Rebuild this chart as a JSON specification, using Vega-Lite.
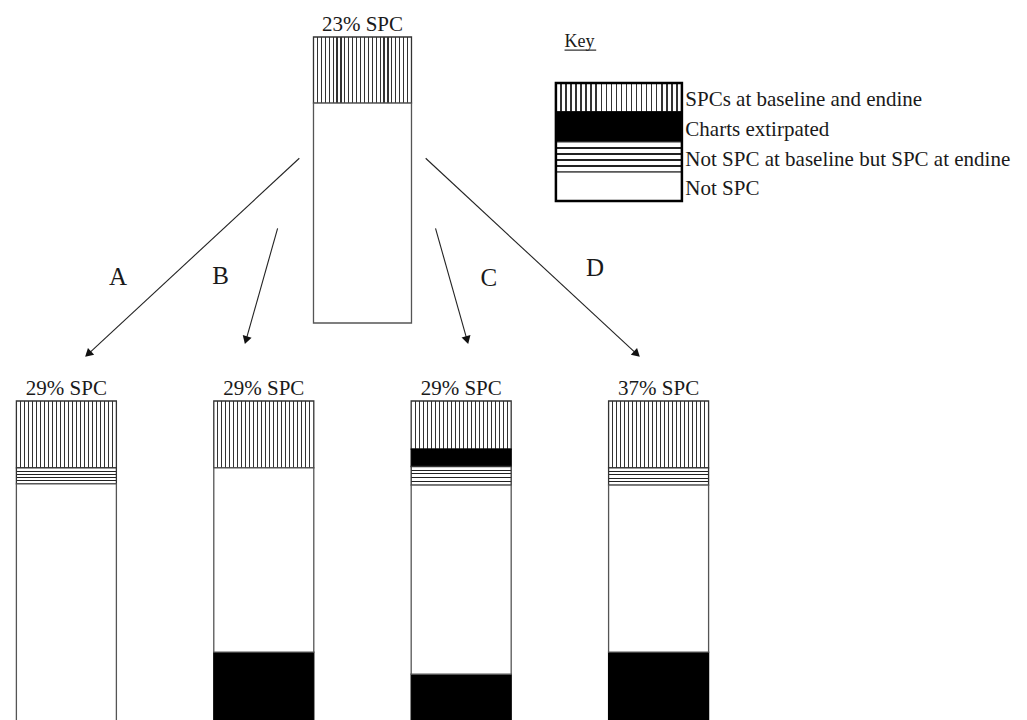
{
  "$schema": "https://vega.github.io/schema/vega-lite/v6.json",
  "padding": 0,
  "spacing": 0,
  "background": "white",
  "config": {"view": {"stroke": null}, "axis": {"disable": true}, "font": "Liberation Serif", "text": {"font": "Liberation Serif", "color": "#1a1a1a"}},
  "resolve": {"scale": {"x": "independent", "y": "independent"}},
  "datasets": {
    "segments": [
      {"panel": "top", "bar": "Top", "slot": 2.5, "category": "SPCs at baseline and endine", "from": 76.9, "to": 100},
      {"panel": "top", "bar": "Top", "slot": 2.5, "category": "Not SPC", "from": 0, "to": 76.9},
      {"panel": "top", "bar": "Key", "slot": 3.799, "category": "SPCs at baseline and endine", "from": 73.8, "to": 83.9},
      {"panel": "top", "bar": "Key", "slot": 3.799, "category": "Charts extirpated", "from": 63.3, "to": 73.8},
      {"panel": "top", "bar": "Key", "slot": 3.799, "category": "Not SPC at baseline but SPC at endine", "from": 52.8, "to": 63.3},
      {"panel": "top", "bar": "Key", "slot": 3.799, "category": "Not SPC", "from": 42.7, "to": 52.8},
      {"panel": "bottom", "bar": "A", "slot": 1, "category": "SPCs at baseline and endine", "from": 76.6, "to": 100},
      {"panel": "bottom", "bar": "A", "slot": 1, "category": "Not SPC at baseline but SPC at endine", "from": 71, "to": 76.6},
      {"panel": "bottom", "bar": "A", "slot": 1, "category": "Not SPC", "from": -13, "to": 71},
      {"panel": "bottom", "bar": "B", "slot": 2, "category": "SPCs at baseline and endine", "from": 76.6, "to": 100},
      {"panel": "bottom", "bar": "B", "slot": 2, "category": "Not SPC", "from": 12.2, "to": 76.6},
      {"panel": "bottom", "bar": "B", "slot": 2, "category": "Charts extirpated", "from": -13, "to": 12.2},
      {"panel": "bottom", "bar": "C", "slot": 3, "category": "SPCs at baseline and endine", "from": 83.2, "to": 100},
      {"panel": "bottom", "bar": "C", "slot": 3, "category": "Charts extirpated", "from": 77.1, "to": 83.2},
      {"panel": "bottom", "bar": "C", "slot": 3, "category": "Not SPC at baseline but SPC at endine", "from": 70.6, "to": 77.1},
      {"panel": "bottom", "bar": "C", "slot": 3, "category": "Not SPC", "from": 4.5, "to": 70.6},
      {"panel": "bottom", "bar": "C", "slot": 3, "category": "Charts extirpated", "from": -13, "to": 4.5},
      {"panel": "bottom", "bar": "D", "slot": 4, "category": "SPCs at baseline and endine", "from": 76.6, "to": 100},
      {"panel": "bottom", "bar": "D", "slot": 4, "category": "Not SPC at baseline but SPC at endine", "from": 70.6, "to": 76.6},
      {"panel": "bottom", "bar": "D", "slot": 4, "category": "Not SPC", "from": 12.2, "to": 70.6},
      {"panel": "bottom", "bar": "D", "slot": 4, "category": "Charts extirpated", "from": -13, "to": 12.2}
    ],
    "arrows": [
      {"letter": "A", "x1": 2.18, "y1": 57.6, "x2": 1.11, "y2": -10.9, "heading": 47.4, "lx": 1.262, "ly": 16.2},
      {"letter": "B", "x1": 2.07, "y1": 33.1, "x2": 1.91, "y2": -6.0, "heading": 16.6, "lx": 1.781, "ly": 16.4},
      {"letter": "C", "x1": 2.87, "y1": 33.1, "x2": 3.03, "y2": -6.0, "heading": -15.7, "lx": 3.14, "ly": 15.7},
      {"letter": "D", "x1": 2.82, "y1": 57.6, "x2": 3.89, "y2": -10.9, "heading": -47.4, "lx": 3.678, "ly": 19.2}
    ],
    "labels": [
      {"panel": "top", "slot": 2.5, "text": "23% SPC"},
      {"panel": "bottom", "slot": 1, "text": "29% SPC"},
      {"panel": "bottom", "slot": 2, "text": "29% SPC"},
      {"panel": "bottom", "slot": 3, "text": "29% SPC"},
      {"panel": "bottom", "slot": 4, "text": "37% SPC"}
    ]
  },
  "vconcat": [
    {
      "width": 1027,
      "height": 360,
      "layer": [
        {
          "data": {"name": "arrows"},
          "mark": {"type": "rule", "stroke": "#222", "strokeWidth": 1.1},
          "encoding": {
            "x": {"field": "x1", "type": "quantitative", "scale": {"domain": [0.689, 5.841], "nice": false, "zero": false}},
            "y": {"field": "y1", "type": "quantitative", "scale": {"domain": [-12.94, 112.94], "nice": false, "zero": false}},
            "x2": {"field": "x2"},
            "y2": {"field": "y2"}
          }
        },
        {
          "data": {"name": "arrows"},
          "mark": {"type": "point", "shape": "triangle-down", "filled": true, "fill": "#111", "opacity": 1, "size": 85, "strokeWidth": 0},
          "encoding": {
            "x": {"field": "x2", "type": "quantitative"},
            "y": {"field": "y2", "type": "quantitative"},
            "angle": {"field": "heading", "type": "quantitative", "scale": null}
          }
        },
        {
          "data": {"name": "arrows"},
          "mark": {"type": "text", "fontSize": 25, "align": "center", "baseline": "middle"},
          "encoding": {
            "x": {"field": "lx", "type": "quantitative"},
            "y": {"field": "ly", "type": "quantitative"},
            "text": {"field": "letter"}
          }
        },
        {
          "data": {"name": "segments"},
          "transform": [{"filter": "datum.panel === 'top' && datum.category === 'SPCs at baseline and endine'"}],
          "mark": {"type": "bar", "stroke": "#333", "strokeWidth": 1.3, "fill": {"gradient": "linear", "x1": 0, "y1": 0, "x2": 1, "y2": 0, "stops": [
            {"offset": 0, "color": "#fff"},
            {"offset": 0.034, "color": "#fff"}, {"offset": 0.034, "color": "#333"}, {"offset": 0.046, "color": "#333"}, {"offset": 0.046, "color": "#fff"},
            {"offset": 0.074, "color": "#fff"}, {"offset": 0.074, "color": "#333"}, {"offset": 0.086, "color": "#333"}, {"offset": 0.086, "color": "#fff"},
            {"offset": 0.114, "color": "#fff"}, {"offset": 0.114, "color": "#333"}, {"offset": 0.126, "color": "#333"}, {"offset": 0.126, "color": "#fff"},
            {"offset": 0.154, "color": "#fff"}, {"offset": 0.154, "color": "#333"}, {"offset": 0.166, "color": "#333"}, {"offset": 0.166, "color": "#fff"},
            {"offset": 0.194, "color": "#fff"}, {"offset": 0.194, "color": "#333"}, {"offset": 0.206, "color": "#333"}, {"offset": 0.206, "color": "#fff"},
            {"offset": 0.234, "color": "#fff"}, {"offset": 0.234, "color": "#333"}, {"offset": 0.246, "color": "#333"}, {"offset": 0.246, "color": "#fff"},
            {"offset": 0.274, "color": "#fff"}, {"offset": 0.274, "color": "#333"}, {"offset": 0.286, "color": "#333"}, {"offset": 0.286, "color": "#fff"},
            {"offset": 0.314, "color": "#fff"}, {"offset": 0.314, "color": "#333"}, {"offset": 0.326, "color": "#333"}, {"offset": 0.326, "color": "#fff"},
            {"offset": 0.354, "color": "#fff"}, {"offset": 0.354, "color": "#333"}, {"offset": 0.366, "color": "#333"}, {"offset": 0.366, "color": "#fff"},
            {"offset": 0.394, "color": "#fff"}, {"offset": 0.394, "color": "#333"}, {"offset": 0.406, "color": "#333"}, {"offset": 0.406, "color": "#fff"},
            {"offset": 0.434, "color": "#fff"}, {"offset": 0.434, "color": "#333"}, {"offset": 0.446, "color": "#333"}, {"offset": 0.446, "color": "#fff"},
            {"offset": 0.474, "color": "#fff"}, {"offset": 0.474, "color": "#333"}, {"offset": 0.486, "color": "#333"}, {"offset": 0.486, "color": "#fff"},
            {"offset": 0.514, "color": "#fff"}, {"offset": 0.514, "color": "#333"}, {"offset": 0.526, "color": "#333"}, {"offset": 0.526, "color": "#fff"},
            {"offset": 0.554, "color": "#fff"}, {"offset": 0.554, "color": "#333"}, {"offset": 0.566, "color": "#333"}, {"offset": 0.566, "color": "#fff"},
            {"offset": 0.594, "color": "#fff"}, {"offset": 0.594, "color": "#333"}, {"offset": 0.606, "color": "#333"}, {"offset": 0.606, "color": "#fff"},
            {"offset": 0.634, "color": "#fff"}, {"offset": 0.634, "color": "#333"}, {"offset": 0.646, "color": "#333"}, {"offset": 0.646, "color": "#fff"},
            {"offset": 0.674, "color": "#fff"}, {"offset": 0.674, "color": "#333"}, {"offset": 0.686, "color": "#333"}, {"offset": 0.686, "color": "#fff"},
            {"offset": 0.714, "color": "#fff"}, {"offset": 0.714, "color": "#333"}, {"offset": 0.726, "color": "#333"}, {"offset": 0.726, "color": "#fff"},
            {"offset": 0.754, "color": "#fff"}, {"offset": 0.754, "color": "#333"}, {"offset": 0.766, "color": "#333"}, {"offset": 0.766, "color": "#fff"},
            {"offset": 0.794, "color": "#fff"}, {"offset": 0.794, "color": "#333"}, {"offset": 0.806, "color": "#333"}, {"offset": 0.806, "color": "#fff"},
            {"offset": 0.834, "color": "#fff"}, {"offset": 0.834, "color": "#333"}, {"offset": 0.846, "color": "#333"}, {"offset": 0.846, "color": "#fff"},
            {"offset": 0.874, "color": "#fff"}, {"offset": 0.874, "color": "#333"}, {"offset": 0.886, "color": "#333"}, {"offset": 0.886, "color": "#fff"},
            {"offset": 0.914, "color": "#fff"}, {"offset": 0.914, "color": "#333"}, {"offset": 0.926, "color": "#333"}, {"offset": 0.926, "color": "#fff"},
            {"offset": 0.954, "color": "#fff"}, {"offset": 0.954, "color": "#333"}, {"offset": 0.966, "color": "#333"}, {"offset": 0.966, "color": "#fff"},
            {"offset": 1, "color": "#fff"}
          ]}},
          "encoding": {
            "x": {"field": "slot", "type": "quantitative"},
            "y": {"field": "from", "type": "quantitative"},
            "y2": {"field": "to"},
            "size": {"condition": {"test": "datum.bar === 'Key'", "value": 126}, "value": 98}
          }
        },
        {
          "data": {"name": "segments"},
          "transform": [{"filter": "datum.panel === 'top' && datum.category === 'Charts extirpated'"}],
          "mark": {"type": "bar", "fill": "#000", "stroke": "#000", "strokeWidth": 1.3},
          "encoding": {
            "x": {"field": "slot", "type": "quantitative"},
            "y": {"field": "from", "type": "quantitative"},
            "y2": {"field": "to"},
            "size": {"condition": {"test": "datum.bar === 'Key'", "value": 126}, "value": 98}
          }
        },
        {
          "data": {"name": "segments"},
          "transform": [{"filter": "datum.panel === 'top' && datum.category === 'Not SPC at baseline but SPC at endine'"}],
          "mark": {"type": "bar", "stroke": "#333", "strokeWidth": 1.3, "fill": {"gradient": "linear", "x1": 0, "y1": 0, "x2": 0, "y2": 1, "stops": [
            {"offset": 0, "color": "#fff"},
            {"offset": 0.17, "color": "#fff"}, {"offset": 0.17, "color": "#222"}, {"offset": 0.23, "color": "#222"}, {"offset": 0.23, "color": "#fff"},
            {"offset": 0.37, "color": "#fff"}, {"offset": 0.37, "color": "#222"}, {"offset": 0.43, "color": "#222"}, {"offset": 0.43, "color": "#fff"},
            {"offset": 0.57, "color": "#fff"}, {"offset": 0.57, "color": "#222"}, {"offset": 0.63, "color": "#222"}, {"offset": 0.63, "color": "#fff"},
            {"offset": 0.77, "color": "#fff"}, {"offset": 0.77, "color": "#222"}, {"offset": 0.83, "color": "#222"}, {"offset": 0.83, "color": "#fff"},
            {"offset": 1, "color": "#fff"}
          ]}},
          "encoding": {
            "x": {"field": "slot", "type": "quantitative"},
            "y": {"field": "from", "type": "quantitative"},
            "y2": {"field": "to"},
            "size": {"condition": {"test": "datum.bar === 'Key'", "value": 126}, "value": 98}
          }
        },
        {
          "data": {"name": "segments"},
          "transform": [{"filter": "datum.panel === 'top' && datum.category === 'Not SPC'"}],
          "mark": {"type": "bar", "fill": "#fff", "stroke": "#555", "strokeWidth": 1.3},
          "encoding": {
            "x": {"field": "slot", "type": "quantitative"},
            "y": {"field": "from", "type": "quantitative"},
            "y2": {"field": "to"},
            "size": {"condition": {"test": "datum.bar === 'Key'", "value": 126}, "value": 98}
          }
        },
        {
          "data": {"name": "segments"},
          "transform": [
            {"filter": "datum.bar === 'Key'"},
            {"aggregate": [{"op": "min", "field": "from", "as": "lo"}, {"op": "max", "field": "to", "as": "hi"}], "groupby": ["slot"]}
          ],
          "mark": {"type": "bar", "fill": "#fff", "fillOpacity": 0, "stroke": "#000", "strokeWidth": 2.5, "size": 126},
          "encoding": {
            "x": {"field": "slot", "type": "quantitative"},
            "y": {"field": "lo", "type": "quantitative"},
            "y2": {"field": "hi"}
          }
        },
        {
          "data": {"name": "segments"},
          "transform": [{"filter": "datum.bar === 'Key'"}],
          "mark": {"type": "text", "fontSize": 21, "align": "left", "baseline": "alphabetic", "dy": -6},
          "encoding": {
            "x": {"datum": 4.1355, "type": "quantitative"},
            "y": {"field": "from", "type": "quantitative"},
            "text": {"field": "category"}
          }
        },
        {
          "data": {"values": [{"title": "Key"}]},
          "mark": {"type": "text", "fontSize": 18, "align": "left", "baseline": "alphabetic"},
          "encoding": {
            "x": {"datum": 3.5235, "type": "quantitative"},
            "y": {"datum": 96.5, "type": "quantitative"},
            "text": {"field": "title"}
          }
        },
        {
          "data": {"values": [{"title": "Key"}]},
          "mark": {"type": "rule", "stroke": "#333", "strokeWidth": 1.2},
          "encoding": {
            "x": {"datum": 3.5235, "type": "quantitative"},
            "x2": {"datum": 3.684},
            "y": {"datum": 95.4, "type": "quantitative"}
          }
        },
        {
          "data": {"name": "labels"},
          "transform": [{"filter": "datum.panel === 'top'"}],
          "mark": {"type": "text", "fontSize": 21, "align": "center", "baseline": "alphabetic"},
          "encoding": {
            "x": {"field": "slot", "type": "quantitative"},
            "y": {"datum": 102.1, "type": "quantitative"},
            "text": {"field": "text"}
          }
        }
      ]
    },
    {
      "width": 1027,
      "height": 360,
      "layer": [
        {
          "data": {"name": "segments"},
          "transform": [{"filter": "datum.panel === 'bottom' && datum.category === 'SPCs at baseline and endine'"}],
          "mark": {"type": "bar", "clip": true, "size": 100, "stroke": "#333", "strokeWidth": 1.3, "fill": {"gradient": "linear", "x1": 0, "y1": 0, "x2": 1, "y2": 0, "stops": [
            {"offset": 0, "color": "#fff"},
            {"offset": 0.034, "color": "#fff"}, {"offset": 0.034, "color": "#333"}, {"offset": 0.046, "color": "#333"}, {"offset": 0.046, "color": "#fff"},
            {"offset": 0.074, "color": "#fff"}, {"offset": 0.074, "color": "#333"}, {"offset": 0.086, "color": "#333"}, {"offset": 0.086, "color": "#fff"},
            {"offset": 0.114, "color": "#fff"}, {"offset": 0.114, "color": "#333"}, {"offset": 0.126, "color": "#333"}, {"offset": 0.126, "color": "#fff"},
            {"offset": 0.154, "color": "#fff"}, {"offset": 0.154, "color": "#333"}, {"offset": 0.166, "color": "#333"}, {"offset": 0.166, "color": "#fff"},
            {"offset": 0.194, "color": "#fff"}, {"offset": 0.194, "color": "#333"}, {"offset": 0.206, "color": "#333"}, {"offset": 0.206, "color": "#fff"},
            {"offset": 0.234, "color": "#fff"}, {"offset": 0.234, "color": "#333"}, {"offset": 0.246, "color": "#333"}, {"offset": 0.246, "color": "#fff"},
            {"offset": 0.274, "color": "#fff"}, {"offset": 0.274, "color": "#333"}, {"offset": 0.286, "color": "#333"}, {"offset": 0.286, "color": "#fff"},
            {"offset": 0.314, "color": "#fff"}, {"offset": 0.314, "color": "#333"}, {"offset": 0.326, "color": "#333"}, {"offset": 0.326, "color": "#fff"},
            {"offset": 0.354, "color": "#fff"}, {"offset": 0.354, "color": "#333"}, {"offset": 0.366, "color": "#333"}, {"offset": 0.366, "color": "#fff"},
            {"offset": 0.394, "color": "#fff"}, {"offset": 0.394, "color": "#333"}, {"offset": 0.406, "color": "#333"}, {"offset": 0.406, "color": "#fff"},
            {"offset": 0.434, "color": "#fff"}, {"offset": 0.434, "color": "#333"}, {"offset": 0.446, "color": "#333"}, {"offset": 0.446, "color": "#fff"},
            {"offset": 0.474, "color": "#fff"}, {"offset": 0.474, "color": "#333"}, {"offset": 0.486, "color": "#333"}, {"offset": 0.486, "color": "#fff"},
            {"offset": 0.514, "color": "#fff"}, {"offset": 0.514, "color": "#333"}, {"offset": 0.526, "color": "#333"}, {"offset": 0.526, "color": "#fff"},
            {"offset": 0.554, "color": "#fff"}, {"offset": 0.554, "color": "#333"}, {"offset": 0.566, "color": "#333"}, {"offset": 0.566, "color": "#fff"},
            {"offset": 0.594, "color": "#fff"}, {"offset": 0.594, "color": "#333"}, {"offset": 0.606, "color": "#333"}, {"offset": 0.606, "color": "#fff"},
            {"offset": 0.634, "color": "#fff"}, {"offset": 0.634, "color": "#333"}, {"offset": 0.646, "color": "#333"}, {"offset": 0.646, "color": "#fff"},
            {"offset": 0.674, "color": "#fff"}, {"offset": 0.674, "color": "#333"}, {"offset": 0.686, "color": "#333"}, {"offset": 0.686, "color": "#fff"},
            {"offset": 0.714, "color": "#fff"}, {"offset": 0.714, "color": "#333"}, {"offset": 0.726, "color": "#333"}, {"offset": 0.726, "color": "#fff"},
            {"offset": 0.754, "color": "#fff"}, {"offset": 0.754, "color": "#333"}, {"offset": 0.766, "color": "#333"}, {"offset": 0.766, "color": "#fff"},
            {"offset": 0.794, "color": "#fff"}, {"offset": 0.794, "color": "#333"}, {"offset": 0.806, "color": "#333"}, {"offset": 0.806, "color": "#fff"},
            {"offset": 0.834, "color": "#fff"}, {"offset": 0.834, "color": "#333"}, {"offset": 0.846, "color": "#333"}, {"offset": 0.846, "color": "#fff"},
            {"offset": 0.874, "color": "#fff"}, {"offset": 0.874, "color": "#333"}, {"offset": 0.886, "color": "#333"}, {"offset": 0.886, "color": "#fff"},
            {"offset": 0.914, "color": "#fff"}, {"offset": 0.914, "color": "#333"}, {"offset": 0.926, "color": "#333"}, {"offset": 0.926, "color": "#fff"},
            {"offset": 0.954, "color": "#fff"}, {"offset": 0.954, "color": "#333"}, {"offset": 0.966, "color": "#333"}, {"offset": 0.966, "color": "#fff"},
            {"offset": 1, "color": "#fff"}
          ]}},
          "encoding": {
            "x": {"field": "slot", "type": "quantitative", "scale": {"domain": [0.689, 5.841], "nice": false, "zero": false}},
            "y": {"field": "from", "type": "quantitative", "scale": {"domain": [-11.54, 114.34], "nice": false, "zero": false}},
            "y2": {"field": "to"}
          }
        },
        {
          "data": {"name": "segments"},
          "transform": [{"filter": "datum.panel === 'bottom' && datum.category === 'Charts extirpated'"}],
          "mark": {"type": "bar", "clip": true, "size": 100, "fill": "#000", "stroke": "#000", "strokeWidth": 1.3},
          "encoding": {
            "x": {"field": "slot", "type": "quantitative"},
            "y": {"field": "from", "type": "quantitative"},
            "y2": {"field": "to"}
          }
        },
        {
          "data": {"name": "segments"},
          "transform": [{"filter": "datum.panel === 'bottom' && datum.category === 'Not SPC at baseline but SPC at endine'"}],
          "mark": {"type": "bar", "clip": true, "size": 100, "stroke": "#333", "strokeWidth": 1.3, "fill": {"gradient": "linear", "x1": 0, "y1": 0, "x2": 0, "y2": 1, "stops": [
            {"offset": 0, "color": "#fff"},
            {"offset": 0.17, "color": "#fff"}, {"offset": 0.17, "color": "#222"}, {"offset": 0.23, "color": "#222"}, {"offset": 0.23, "color": "#fff"},
            {"offset": 0.37, "color": "#fff"}, {"offset": 0.37, "color": "#222"}, {"offset": 0.43, "color": "#222"}, {"offset": 0.43, "color": "#fff"},
            {"offset": 0.57, "color": "#fff"}, {"offset": 0.57, "color": "#222"}, {"offset": 0.63, "color": "#222"}, {"offset": 0.63, "color": "#fff"},
            {"offset": 0.77, "color": "#fff"}, {"offset": 0.77, "color": "#222"}, {"offset": 0.83, "color": "#222"}, {"offset": 0.83, "color": "#fff"},
            {"offset": 1, "color": "#fff"}
          ]}},
          "encoding": {
            "x": {"field": "slot", "type": "quantitative"},
            "y": {"field": "from", "type": "quantitative"},
            "y2": {"field": "to"}
          }
        },
        {
          "data": {"name": "segments"},
          "transform": [{"filter": "datum.panel === 'bottom' && datum.category === 'Not SPC'"}],
          "mark": {"type": "bar", "clip": true, "size": 100, "fill": "#fff", "stroke": "#555", "strokeWidth": 1.3},
          "encoding": {
            "x": {"field": "slot", "type": "quantitative"},
            "y": {"field": "from", "type": "quantitative"},
            "y2": {"field": "to"}
          }
        },
        {
          "data": {"name": "labels"},
          "transform": [{"filter": "datum.panel === 'bottom'"}],
          "mark": {"type": "text", "fontSize": 21, "align": "center", "baseline": "alphabetic"},
          "encoding": {
            "x": {"field": "slot", "type": "quantitative"},
            "y": {"datum": 102.1, "type": "quantitative"},
            "text": {"field": "text"}
          }
        }
      ]
    }
  ]
}
